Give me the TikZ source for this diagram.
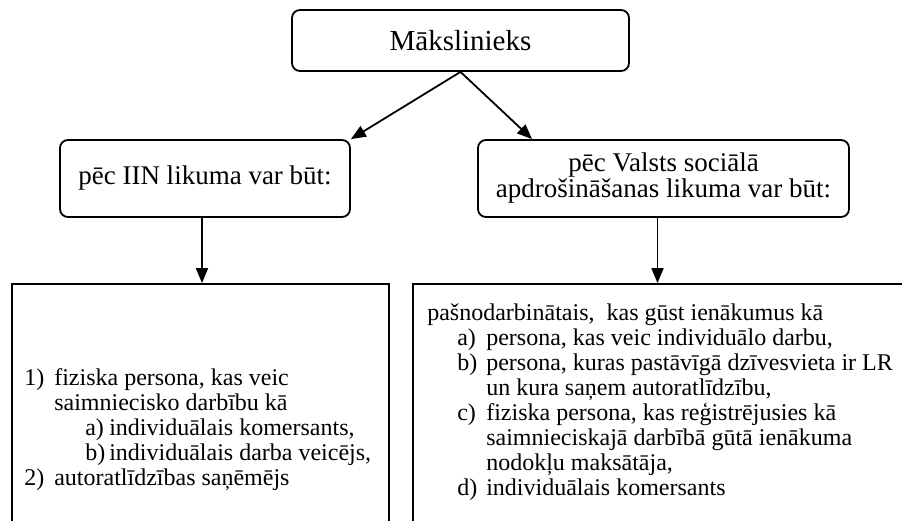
\documentclass[tikz,border=0pt]{standalone}
\usepackage{fontspec}
\setmainfont{Liberation Serif}
\usetikzlibrary{positioning,arrows.meta}

\tikzset{
  headbox/.style={draw, line width=1.8pt, rounded corners=8pt, align=center, inner sep=0pt},
  listbox/.style={draw, line width=1.8pt, minimum height=250pt, inner sep=0pt},
  listtext/.style={align=left, inner sep=0pt, anchor=north west, font=\fontsize{24}{25}\selectfont},
  arr/.style={-{Triangle[length=15pt,width=12pt]}, line width=1.8pt},
}
\newcommand{\lbl}[1]{\makebox[29pt][l]{#1}}

\begin{document}
\begin{tikzpicture}[x=1pt,y=-1pt]
        \clip (0,0) rectangle (902,521);

        \node [headbox, minimum width=337pt, minimum height=61pt, font=\fontsize{29}{30}\selectfont] (artist) at (460.5,40.5) {Mākslinieks};

        \node [headbox, minimum width=290pt, minimum height=77pt, font=\fontsize{27}{26}\selectfont] (iin) at (205,178.5) {pēc IIN likuma var būt:};
        \node [headbox, minimum width=371pt, minimum height=77pt, font=\fontsize{27}{26}\selectfont] (vsa) at (663.5,178.5) {pēc Valsts sociālā\\apdrošināšanas likuma var būt:};

        \node [listbox, minimum width=377pt] (iinlist) at (200.5,409) {};
        \node [listbox, minimum width=502pt] (vsalist) at (664,409) {};

        \node [listtext] (iintext) at ([xshift=13pt,yshift=-85pt]iinlist.north west) {%
          \makebox[30pt][l]{1)}fiziska persona, kas veic\\
          \hspace*{30pt}saimniecisko darbību kā\\
          \hspace*{61pt}\makebox[24pt][l]{a)}individuālais komersants,\\
          \hspace*{61pt}\makebox[24pt][l]{b)}individuālais darba veicējs,\\
          \makebox[30pt][l]{2)}autoratlīdzības saņēmējs};

        \node [listtext] (vsatext) at ([xshift=15pt,yshift=-20pt]vsalist.north west) {%
          pašnodarbinātais,\ \ kas gūst ienākumus kā\\
          \hspace*{30pt}\lbl{a)}persona, kas veic individuālo darbu,\\
          \hspace*{30pt}\lbl{b)}persona, kuras pastāvīgā dzīvesvieta ir LR\\
          \hspace*{59pt}un kura saņem autoratlīdzību,\\
          \hspace*{30pt}\lbl{c)}fiziska persona, kas reģistrējusies kā\\
          \hspace*{59pt}saimnieciskajā darbībā gūtā ienākuma\\
          \hspace*{59pt}nodokļu maksātāja,\\
          \hspace*{30pt}\lbl{d)}individuālais komersants};

        \coordinate (vsaentry) at ([xshift=55pt]vsa.north west);
        \coordinate (iindrop) at ([xshift=-3pt]iin.south);
        \coordinate (vsadrop) at ([xshift=-6pt]vsa.south);

        \draw [arr] (artist.south) -- (iin.north east);
        \draw [arr] (artist.south) -- (vsaentry);
        \draw [arr] (iindrop) -- (iindrop |- iinlist.north);
        \draw [arr] (vsadrop) -- (vsadrop |- vsalist.north);
\end{tikzpicture}
\end{document}
